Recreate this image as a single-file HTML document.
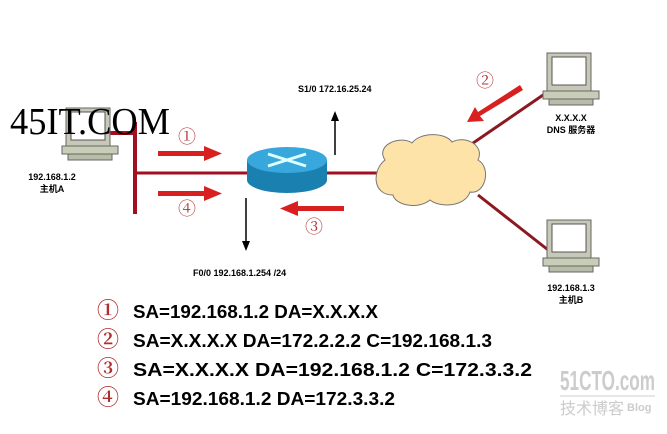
<!DOCTYPE html>
<html><head><meta charset="utf-8"><style>
body{margin:0;background:#fff}
svg{display:block}
.s{font-family:"Liberation Sans","Noto Sans CJK SC",sans-serif;font-weight:bold;font-size:9px;fill:#000}
.b{font-family:"Liberation Sans",sans-serif;font-size:18px;fill:#000;font-weight:bold}
.c{font-family:"Liberation Serif","Noto Serif CJK SC",serif;fill:#b03030}
</style></head><body>
<svg width="667" height="434" viewBox="0 0 667 434" xmlns="http://www.w3.org/2000/svg">
<defs>
<g id="pc">
<rect x="4" y="0" width="44" height="38" fill="#c8c8b8" stroke="#666" stroke-width="1"/>
<rect x="9" y="4" width="34" height="28" fill="#fff" stroke="#555"/>
<polygon points="0,38 56,38 56,46 0,46" fill="#c8cdb8" stroke="#666"/>
<polygon points="6,46 50,46 50,52 6,52" fill="#b8bca8" stroke="#666"/>
</g>
</defs>
<line x1="110" y1="133" x2="136" y2="133" stroke="#a01020" stroke-width="4"/>
<line x1="135" y1="122" x2="135" y2="214" stroke="#a01020" stroke-width="4"/>
<line x1="135" y1="173" x2="400" y2="173" stroke="#a01020" stroke-width="3"/>
<line x1="460" y1="152" x2="546" y2="93" stroke="#8a1a20" stroke-width="3"/>
<line x1="478" y1="195" x2="552" y2="253" stroke="#8a1a20" stroke-width="3"/>
<path d="M385,160 C375,145 400,135 412,143 C420,132 445,132 452,142 C465,135 485,145 478,160 C492,168 485,195 470,192 C465,207 440,208 430,200 C418,210 395,205 393,195 C372,195 372,170 385,160 Z" fill="#fde3a8" stroke="#777" stroke-width="1"/>
<path d="M247,160 L247,180 A40,13 0 0,0 327,180 L327,160 Z" fill="#1a80b0"/>
<ellipse cx="287" cy="160" rx="40" ry="13" fill="#38a8dc"/>
<path d="M268,154 L306,166 M306,154 L268,166" stroke="#dff" stroke-width="3"/>
<use href="#pc" x="62" y="108"/>
<use href="#pc" x="543" y="53"/>
<use href="#pc" x="543" y="220"/>
<g fill="#d82020">
<rect x="158" y="151" width="48" height="5"/><polygon points="204,146 222,153.5 204,161"/>
<rect x="158" y="191" width="48" height="5"/><polygon points="204,186 222,193.5 204,201"/>
<rect x="296" y="206" width="48" height="5"/><polygon points="298,201 280,208.5 298,216"/>
<polygon points="520,85 523,90 480,116 484,121 467,122 475,107 478,112"/>
</g>
<line x1="335" y1="155" x2="335" y2="120" stroke="#000" stroke-width="1.5"/>
<polygon points="331,121 335,111 339,121" fill="#000"/>
<line x1="246" y1="198" x2="246" y2="242" stroke="#000" stroke-width="1.5"/>
<polygon points="242,241 246,251 250,241" fill="#000"/>
<text class="c" x="187" y="143" font-size="18" text-anchor="middle">①</text>
<text class="c" x="187" y="215" font-size="18" text-anchor="middle">④</text>
<text class="c" x="314" y="233" font-size="18" text-anchor="middle">③</text>
<text class="c" x="485" y="87" font-size="18" text-anchor="middle">②</text>
<text x="10" y="134" font-family="Liberation Serif,serif" font-size="38" textLength="160" lengthAdjust="spacingAndGlyphs">45IT.COM</text>
<text class="s" x="52" y="180" text-anchor="middle">192.168.1.2</text>
<text class="s" x="52" y="192" text-anchor="middle">主机A</text>
<text class="s" x="298" y="92">S1/0 172.16.25.24</text>
<text class="s" x="193" y="276">F0/0 192.168.1.254 /24</text>
<text class="s" x="571" y="121" text-anchor="middle">X.X.X.X</text>
<text class="s" x="571" y="133" text-anchor="middle">DNS 服务器</text>
<text class="s" x="571" y="291" text-anchor="middle">192.168.1.3</text>
<text class="s" x="571" y="303" text-anchor="middle">主机B</text>
<text x="560" y="390" font-family="Liberation Sans,sans-serif" font-weight="bold" font-size="28" fill="#ccc" textLength="95" lengthAdjust="spacingAndGlyphs">51CTO.com</text>
<line x1="560" y1="396" x2="655" y2="396" stroke="#ccc"/>
<text x="560" y="414" font-family="Noto Sans CJK SC,sans-serif" font-size="16" fill="#ccc">技术博客</text>
<text x="627" y="411" font-family="Liberation Sans,sans-serif" font-size="11" fill="#ccc" font-weight="bold">Blog</text>
<text class="c" x="108" y="318" font-size="22" font-weight="bold" text-anchor="middle">①</text>
<text class="c" x="108" y="347" font-size="22" font-weight="bold" text-anchor="middle">②</text>
<text class="c" x="108" y="376" font-size="22" font-weight="bold" text-anchor="middle">③</text>
<text class="c" x="108" y="405" font-size="22" font-weight="bold" text-anchor="middle">④</text>
<text class="b" x="133" y="318" textLength="245" lengthAdjust="spacingAndGlyphs">SA=192.168.1.2 DA=X.X.X.X</text>
<text class="b" x="133" y="347" textLength="359" lengthAdjust="spacingAndGlyphs">SA=X.X.X.X DA=172.2.2.2 C=192.168.1.3</text>
<text class="b" x="133" y="376" textLength="399" lengthAdjust="spacingAndGlyphs">SA=X.X.X.X DA=192.168.1.2 C=172.3.3.2</text>
<text class="b" x="133" y="405" textLength="262" lengthAdjust="spacingAndGlyphs">SA=192.168.1.2 DA=172.3.3.2</text>
</svg>
</body></html>
